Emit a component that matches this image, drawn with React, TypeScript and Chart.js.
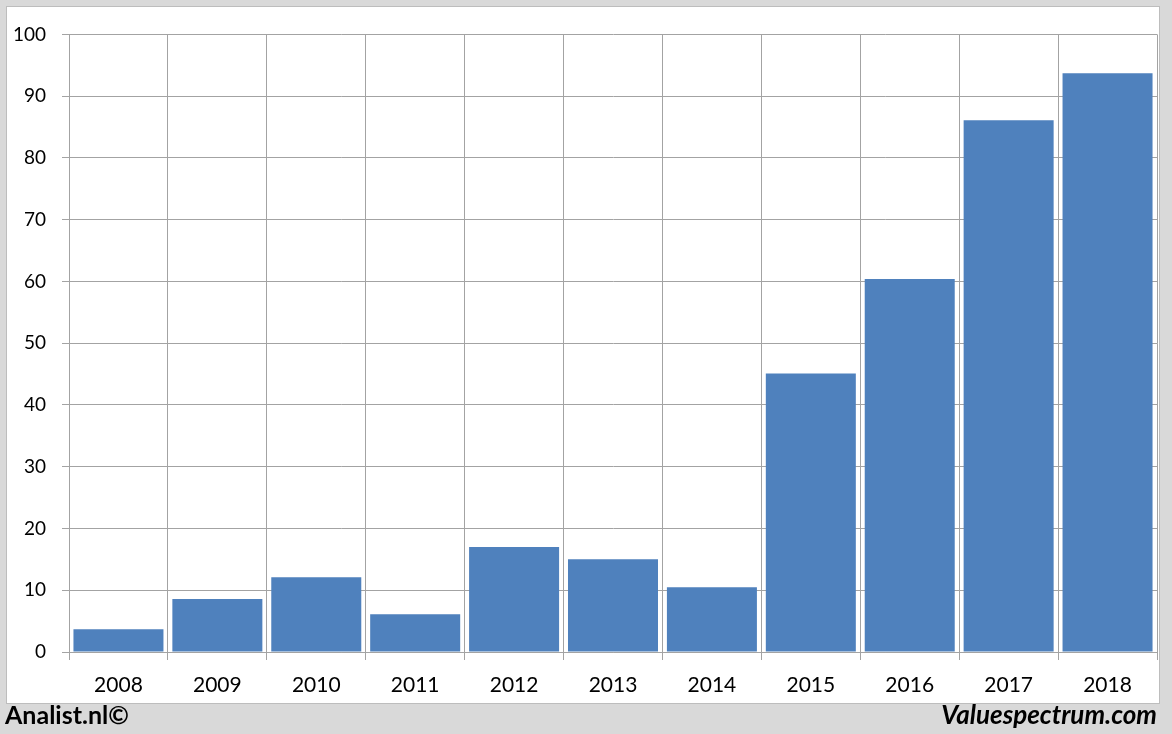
import React, { useEffect, useRef } from "react";
import { Chart, registerables } from "chart.js";

Chart.register(...registerables);

const categories = ["2008", "2009", "2010", "2011", "2012", "2013", "2014", "2015", "2016", "2017", "2018"];
const values = [3.7, 8.6, 12.1, 6.1, 17.0, 15.0, 10.5, 45.1, 60.4, 86.1, 93.7];
const yMin = 0;
const yMax = 100;
const yStep = 10;

export default function App() {
  const ref = useRef<HTMLCanvasElement | null>(null);

  useEffect(() => {
    if (!ref.current) return;
    const gridColor = "#a3a3a3";
    const chart = new Chart(ref.current, {
      type: "bar",
      data: {
        labels: categories,
        datasets: [
          {
            data: values,
            backgroundColor: "#4f81bd",
            borderWidth: 0,
            barPercentage: 0.91,
            categoryPercentage: 1,
          },
        ],
      },
      options: {
        responsive: false,
        animation: false,
        events: [],
        layout: { padding: { top: 27, right: 1, left: 1, bottom: 0 } },
        plugins: { legend: { display: false }, tooltip: { enabled: false } },
        scales: {
          x: {
            grid: { color: gridColor, lineWidth: 1, offset: true, tickLength: 8, drawTicks: true },
            border: { display: true, color: gridColor },
            ticks: { color: "#000", font: { family: "Lato", size: 21 }, padding: 13, maxRotation: 0 },
            afterFit: (s: any) => {
              s.height = 51;
            },
          },
          y: {
            min: yMin,
            max: yMax,
            grid: { color: gridColor, lineWidth: 1, tickLength: 7, drawTicks: true },
            border: { display: true, color: gridColor },
            ticks: { stepSize: yStep, color: "#000", font: { family: "Lato", size: 19 }, padding: 16 },
            afterFit: (s: any) => {
              s.width = 61;
            },
          },
        },
      },
    });
    return () => chart.destroy();
  }, []);

  return (
    <div
      style={{
        position: "fixed",
        left: 0,
        top: 0,
        width: 1172,
        height: 734,
        background: "#d9d9d9",
        overflow: "hidden",
      }}
    >
      <div
        style={{
          position: "absolute",
          left: 6,
          top: 6,
          width: 1154,
          height: 698,
          boxSizing: "border-box",
          border: "1px solid #bdbdbd",
          background: "#fff",
        }}
      >
        <canvas ref={ref} width={1151} height={696} style={{ display: "block", width: 1151, height: 696 }} />
      </div>
      <div
        style={{
          position: "absolute",
          left: 5,
          top: 699,
          fontFamily: "Lato",
          fontWeight: 700,
          fontSize: 25,
          lineHeight: "30px",
          color: "#000",
        }}
      >
        Analist.nl©
      </div>
      <div
        style={{
          position: "absolute",
          right: 15,
          top: 699,
          fontFamily: "Lato",
          fontWeight: 700,
          fontStyle: "italic",
          fontSize: 26,
          lineHeight: "30px",
          color: "#000",
        }}
      >
        Valuespectrum.com
      </div>
    </div>
  );
}
